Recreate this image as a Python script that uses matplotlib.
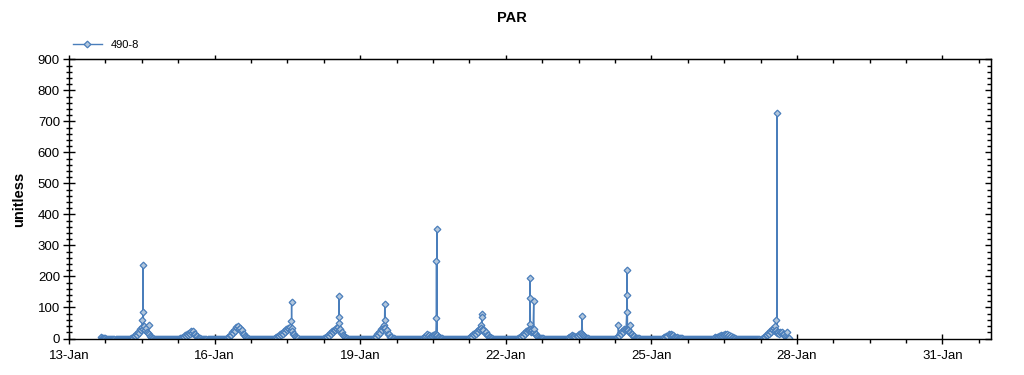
"""PAR time series plot for station 490-8 (half-hourly record plus short spikes)."""

import matplotlib

matplotlib.use("Agg")

import matplotlib.dates as mdates
import matplotlib.pyplot as plt
import numpy as np
import pandas as pd

plt.rcParams["font.family"] = ["Liberation Sans", "DejaVu Sans"]

SERIES_NAME = "490-8"
YEAR = 2015

# half-hourly values, one list per day; rows are 00:00, 06:00, 12:00, 18:00
jan13 = [5, 3, 2, 1, 1, 0, 0, 0, 0, 0, 0, 0,        # starts at 16:00
         0, 0, 0, 0]
jan14 = [0, 0, 0, 0, 0, 0, 0, 0, 0, 0, 0, 0,
         0, 1, 3, 2, 7, 9, 14, 12, 21, 19, 30, 27,
         36, 31, 40, 29, 33, 22, 18, 13, 7, 5, 2, 1,
         0, 0, 0, 0, 0, 0, 0, 0, 0, 0, 0, 0]
jan15 = [0, 0, 0, 0, 0, 0, 0, 0, 0, 0, 0, 0,
         0, 0, 1, 3, 2, 6, 5, 10, 8, 14, 12, 18,
         16, 23, 19, 24, 15, 14, 8, 7, 3, 2, 1, 0,
         0, 0, 0, 0, 0, 0, 0, 0, 0, 0, 0, 0]
jan16 = [0, 0, 0, 0, 0, 0, 0, 0, 0, 0, 0, 0,
         3, 6, 5, 12, 10, 20, 17, 29, 25, 37, 33, 40,
         31, 35, 24, 27, 15, 13, 7, 6, 2, 1, 0, 0,
         0, 0, 0, 0, 0, 0, 0, 0, 0, 0, 0, 0]
jan17 = [0, 0, 0, 0, 0, 0, 0, 0, 0, 0, 0, 0,
         2, 4, 3, 9, 7, 13, 11, 18, 15, 24, 21, 30,
         27, 35, 31, 36, 26, 25, 16, 15, 7, 5, 2, 1,
         0, 0, 0, 0, 0, 0, 0, 0, 0, 0, 0, 0]
jan18 = [0, 0, 0, 0, 0, 0, 0, 0, 0, 0, 0, 0,
         2, 3, 6, 5, 11, 9, 17, 15, 23, 20, 29, 26,
         35, 30, 37, 28, 30, 19, 20, 11, 9, 4, 3, 1,
         0, 0, 0, 0, 0, 0, 0, 0, 0, 0, 0, 0]
jan19 = [0, 0, 0, 0, 0, 0, 0, 0, 0, 0, 0, 0,
         0, 0, 3, 6, 5, 14, 11, 22, 19, 31, 27, 37,
         33, 35, 25, 26, 15, 14, 6, 6, 2, 1, 0, 0,
         0, 0, 0, 0, 0, 0, 0, 0, 0, 0, 0, 0]
jan20 = [0, 0, 0, 0, 0, 0, 0, 0, 0, 0, 0, 0,
         0, 0, 2, 5, 4, 9, 13, 8, 10, 6, 8, 7,
         12, 11, 15, 10, 11, 6, 5, 3, 2, 1, 0, 0,
         0, 0, 0, 0, 0, 0, 0, 0, 0, 0, 0, 0]
jan21 = [0, 0, 0, 0, 0, 0, 0, 0, 0, 0, 0, 0,
         2, 4, 7, 6, 13, 11, 19, 16, 25, 22, 31, 28,
         33, 27, 28, 19, 20, 12, 11, 6, 4, 2, 1, 0,
         0, 0, 0, 0, 0, 0, 0, 0, 0, 0, 0, 0]
jan22 = [0, 0, 0, 0, 0, 0, 0, 0, 0, 0, 0, 0,
         1, 2, 5, 4, 11, 9, 17, 14, 23, 20, 29, 26,
         32, 27, 28, 21, 21, 14, 13, 7, 6, 3, 3, 2,
         1, 1, 0, 0, 0, 0, 0, 0, 0, 0, 0, 0]
jan23 = [0, 0, 0, 0, 0, 0, 0, 0, 0, 0, 0, 0,
         0, 0, 2, 4, 3, 8, 11, 7, 8, 5, 7, 9,
         13, 11, 18, 14, 12, 7, 6, 3, 2, 1, 0, 0,
         0, 0, 0, 0, 0, 0, 0, 0, 0, 0, 0, 0]
jan24 = [0, 0, 0, 0, 0, 0, 0, 0, 0, 0, 0, 0,
         0, 0, 4, 9, 7, 17, 14, 24, 21, 30, 26, 32,
         28, 29, 21, 22, 14, 13, 7, 7, 3, 3, 1, 1,
         1, 0, 0, 0, 0, 0, 0, 0, 0, 0, 0, 0]
jan25 = [0, 0, 0, 0, 0, 0, 0, 0, 0, 0, 0, 0,
         2, 4, 3, 9, 7, 15, 12, 16, 10, 11, 6, 6,
         3, 4, 2, 3, 1, 2, 1, 0, 0, 0, 0, 0,
         0, 0, 0, 0, 0, 0, 0, 0, 0, 0, 0, 0]
jan26 = [0, 0, 0, 0, 0, 0, 0, 0, 0, 0, 0, 0,
         0, 0, 2, 4, 3, 6, 5, 8, 7, 10, 9, 12,
         11, 14, 12, 13, 9, 10, 6, 7, 3, 4, 1, 1,
         0, 0, 0, 0, 0, 0, 0, 0, 0, 0, 0, 0]
jan27 = [0, 0, 0, 0, 0, 0, 0, 0, 0, 0, 0, 0,
         0, 0, 3, 6, 5, 12, 10, 19, 16, 25, 22, 31,
         27, 33, 25, 28, 17, 22, 15, 21, 18, 20, 13, 14,
         7, 6, 3, 2, 1]                                  # ends at 20:00

# short spikes between the regular readings
spike_times = [
    "01-14 12:20", "01-14 12:35", "01-14 12:40", "01-14 15:20",
    "01-17 13:50", "01-17 14:05", "01-17 14:10",
    "01-18 13:20", "01-18 13:35", "01-18 13:40",
    "01-19 11:50", "01-19 12:10", "01-19 12:20",
    "01-20 13:40", "01-20 13:45", "01-20 13:50", "01-20 13:55", "01-20 14:05",
    "01-21 11:50", "01-21 12:10", "01-21 12:20", "01-21 12:40",
    "01-22 11:50", "01-22 11:55", "01-22 12:05", "01-22 12:15", "01-22 13:50", "01-22 14:05",
    "01-23 13:40",
    "01-24 07:40", "01-24 11:50", "01-24 11:55", "01-24 12:05", "01-24 12:15", "01-24 13:20",
    "01-27 13:20", "01-27 13:50", "01-27 14:05", "01-27 14:10", "01-27 19:10",
]
spike_values = [
    60, 237, 85, 42,
    55, 119, 35,
    50, 138, 68,
    42, 110, 60,
    65, 251, 8, 353, 12,
    45, 78, 70, 30,
    47, 196, 130, 20, 121, 30,
    74,
    44, 85, 221, 139, 30, 44,
    40, 60, 727, 20, 21,
]

LINE_COLOR = "#4a7ebb"
FACE_COLOR = "#b3c7dc"


def build_series():
    """Join the day lists and the spike readings into one time-sorted series."""
    days = [jan13, jan14, jan15, jan16, jan17, jan18, jan19, jan20,
            jan21, jan22, jan23, jan24, jan25, jan26, jan27]
    start = pd.Timestamp(f"{YEAR}-01-13 16:00")
    values = [v for day in days for v in day]
    index = pd.date_range(start, periods=len(values), freq="30min")
    regular = pd.Series(values, index=index, dtype=float)

    spike_index = pd.to_datetime([f"{YEAR}-{t}" for t in spike_times])
    spikes = pd.Series(spike_values, index=spike_index, dtype=float)

    return pd.concat([regular, spikes]).sort_index(kind="stable")


def plot_par(save_path="out.png"):
    data = build_series()

    fig = plt.figure(figsize=(10.24, 3.75), dpi=100)
    ax = fig.add_axes([69 / 1024, 1 - 338.5 / 375, 922 / 1024, 279.2 / 375])

    line, = ax.plot(data.index, data.values, color=LINE_COLOR, linewidth=1.0,
                    marker="D", markersize=3.4, markerfacecolor=FACE_COLOR,
                    markeredgecolor=LINE_COLOR, markeredgewidth=0.9,
                    label=SERIES_NAME)

    x0 = mdates.date2num(pd.Timestamp(f"{YEAR}-01-13"))
    x1 = mdates.date2num(pd.Timestamp(f"{YEAR}-02-01"))
    ax.set_xlim(x0, x1)
    ax.set_ylim(0, 900)

    major_x = np.arange(x0, x1, 3)
    minor_x = np.arange(x0, x1 + 0.01, 0.75)
    ax.set_xticks(major_x)
    ax.set_xticks(minor_x, minor=True)
    ax.xaxis.set_major_formatter(mdates.DateFormatter("%d-%b"))
    ax.set_yticks(np.arange(0, 901, 100))
    ax.set_yticks(np.arange(0, 901, 20), minor=True)

    ax.tick_params(axis="x", which="major", direction="inout", length=7,
                   width=1, labelsize=9.5, pad=5)
    ax.tick_params(axis="x", which="minor", direction="out", length=3, width=1)
    ax.tick_params(axis="y", which="major", direction="inout", length=9,
                   width=1, labelsize=9.5, pad=2)
    ax.tick_params(axis="y", which="minor", direction="inout", length=4, width=1)

    top = ax.secondary_xaxis("top")
    top.set_xticks(major_x)
    top.set_xticks(minor_x, minor=True)
    top.tick_params(which="major", direction="out", length=3, width=1, labeltop=False)
    top.tick_params(which="minor", direction="in", length=3, width=1)

    right = ax.secondary_yaxis("right")
    right.set_yticks(np.arange(0, 901, 100))
    right.set_yticks(np.arange(0, 901, 20), minor=True)
    right.tick_params(which="major", direction="in", length=4, width=1, labelright=False)
    right.tick_params(which="minor", direction="in", length=3, width=1)

    for spine in ax.spines.values():
        spine.set_linewidth(1)

    fig.text(0.5, 1 - 18 / 375, "PAR", ha="center", va="center",
             fontsize=10.5, fontweight="bold")
    fig.text(19 / 1024, 1 - 199 / 375, "unitless", ha="center", va="center",
             rotation=90, fontsize=10.5, fontweight="bold")

    fig.legend(handles=[line], loc="center left",
               bbox_to_anchor=(73 / 1024, 1 - 45 / 375), frameon=False,
               fontsize=8, handlelength=2.6, handletextpad=0.8,
               borderpad=0, borderaxespad=0)

    fig.savefig(save_path, dpi=100)
    plt.close(fig)


if __name__ == "__main__":
    plot_par()
